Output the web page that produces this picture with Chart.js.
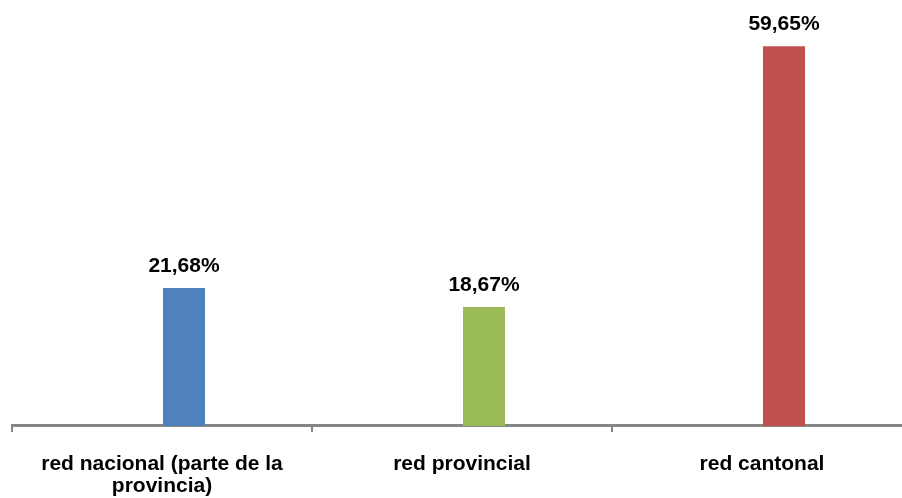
<!DOCTYPE html>
<html>
<head>
<meta charset="utf-8">
<script src="https://cdn.jsdelivr.net/npm/chart.js@4.4.0/dist/chart.umd.min.js"></script>
<style>
  html, body { margin: 0; padding: 0; background: #fff; }
  .wrap { width: 902px; height: 498px; overflow: hidden; }
</style>
</head>
<body>
<div class="wrap">
  <canvas id="chart" width="920" height="518"></canvas>
</div>
<script>
const categories = [['red nacional (parte de la', 'provincia)'], 'red provincial', 'red cantonal'];
const values = [21.68, 18.67, 59.65];
const spacer = [null, null, null];
const barColors = ['#4F81BD', '#9BBB59', '#C0504D'];

// draws the percentage labels above the bars
const valueLabels = {
  id: 'valueLabels',
  afterDatasetsDraw(chart) {
    const ctx = chart.ctx;
    const meta = chart.getDatasetMeta(1);
    ctx.save();
    ctx.font = 'bold 21px "Liberation Sans", Arial, sans-serif';
    ctx.fillStyle = '#000';
    ctx.textAlign = 'center';
    ctx.textBaseline = 'alphabetic';
    meta.data.forEach((bar, i) => {
      const txt = values[i].toFixed(2).replace('.', ',') + '%';
      ctx.fillText(txt, bar.x, bar.y - 16);
    });
    ctx.restore();
  }
};

new Chart(document.getElementById('chart'), {
  type: 'bar',
  data: {
    labels: categories,
    datasets: [
      { data: spacer, backgroundColor: '#fff', barPercentage: 0.955, categoryPercentage: 0.2933 },
      { data: values, backgroundColor: barColors, barPercentage: 0.955, categoryPercentage: 0.2933 }
    ]
  },
  options: {
    responsive: false,
    animation: false,
    layout: { padding: { left: 12, right: 8, top: 0, bottom: 0 } },
    plugins: {
      legend: { display: false },
      tooltip: { enabled: false }
    },
    scales: {
      y: {
        display: false,
        min: 0,
        max: 66.9
      },
      x: {
        grid: {
          offset: true,
          drawOnChartArea: false,
          tickLength: 6,
          color: '#868686',
          lineWidth: 2
        },
        border: { color: '#868686', width: 3 },
        ticks: {
          color: '#000',
          padding: 21,
          maxRotation: 0,
          font: { family: '"Liberation Sans", Arial, sans-serif', size: 21, weight: 'bold', lineHeight: 1.05 }
        }
      }
    }
  },
  plugins: [valueLabels]
});
</script>
</body>
</html>
